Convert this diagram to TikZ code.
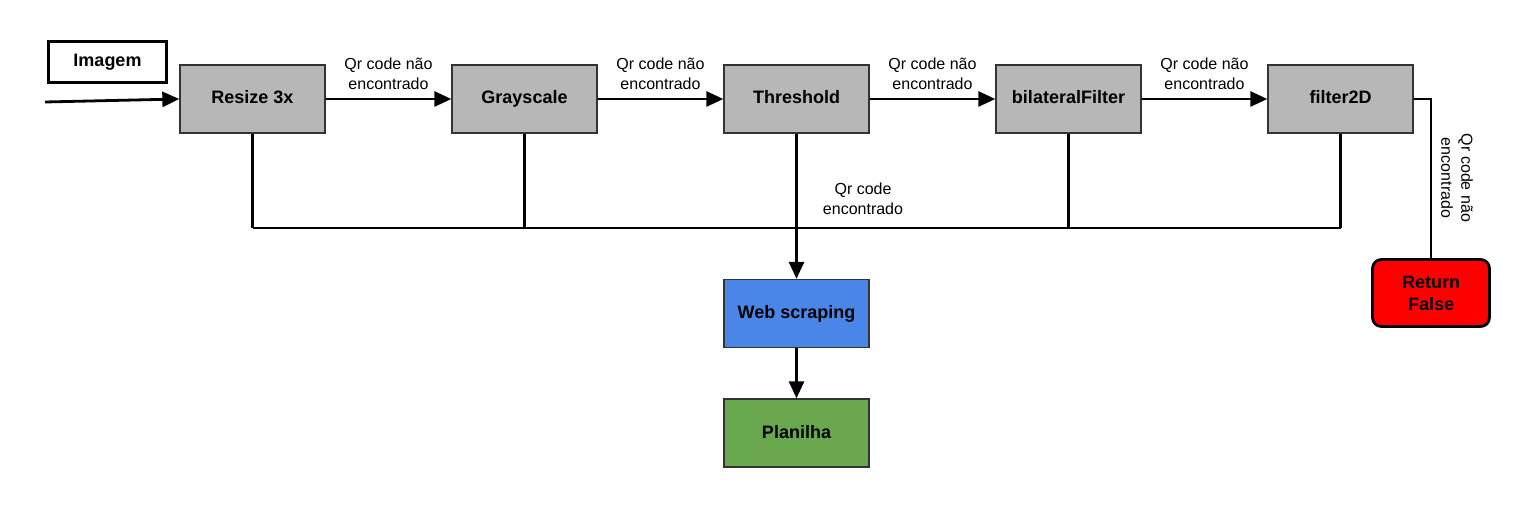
\documentclass[tikz,border=0pt]{standalone}
\usepackage{fontspec}
\setmainfont{Liberation Sans}
\usetikzlibrary{arrows.meta}

\definecolor{boxgray}{HTML}{B7B7B7}
\definecolor{webblue}{HTML}{4A86E8}
\definecolor{sheetgreen}{HTML}{6AA84F}

\begin{document}
\begin{tikzpicture}[x=1pt,y=-1pt,
	stage/.style={rectangle, draw=black!80, line width=1.3pt, fill=boxgray, minimum width=145pt, minimum height=68pt, text height=13pt, text depth=3pt, font=\fontsize{18}{21}\selectfont\bfseries},
	conn/.style={line width=2.8pt},
	arr/.style={conn, -{Triangle[length=17pt,width=15pt]}},
	lbl/.style={align=center, font=\fontsize{16}{20}\selectfont}]

	\useasboundingbox (0,0) rectangle (1515,516);

	\node (img) [rectangle, draw, line width=2.8pt, fill=white, minimum width=118pt, minimum height=41pt, text height=13pt, text depth=3pt, font=\fontsize{18}{21}\selectfont\bfseries] at (107.5, 62) {Imagem};
	\node (res) [stage] at (252.5, 99) {Resize 3x};
	\node (gry) [stage] at (524.5, 99) {Grayscale};
	\node (thr) [stage] at (796.5, 99) {Threshold};
	\node (bil) [stage] at (1068.5, 99) {bilateralFilter};
	\node (f2d) [stage] at (1340.5, 99) {filter2D};
	\node (web) [stage, fill=webblue] at (796.5, 313.5) {Web scraping};
	\node (sht) [stage, fill=sheetgreen] at (796.5, 433) {Planilha};
	\node (ret) [rectangle, rounded corners=9pt, draw, line width=2.8pt, fill=red, minimum width=117pt, minimum height=67pt, align=center, font=\fontsize{18}{22}\selectfont\bfseries] at (1431, 293) {Return\\False};

	\coordinate (in) at (45, 102);
	\coordinate (b1) at (252.5, 228);
	\coordinate (b2) at (524.5, 228);
	\coordinate (b4) at (1068.5, 228);
	\coordinate (b5) at (1340.5, 228);

	\path[arr]
	(in) edge (res.west)
	(res.east) edge node[lbl, above=5pt] {Qr code não\\encontrado} (gry.west)
	(gry.east) edge node[lbl, above=5pt] {Qr code não\\encontrado} (thr.west)
	(thr.east) edge node[lbl, above=5pt] {Qr code não\\encontrado} (bil.west)
	(bil.east) edge node[lbl, above=5pt] {Qr code não\\encontrado} (f2d.west)
	(thr.south) edge (web.north)
	(web.south) edge (sht.north);

	\path[conn]
	(res.south) edge (b1)
	(gry.south) edge (b2)
	(bil.south) edge (b4)
	(f2d.south) edge (b5)
	(b1) edge (b5);

	\draw[conn] (f2d.east) -| (ret.north);

	\node (lfound) [lbl] at (863, 199) {Qr code\\encontrado};
	\node (lnot) [lbl, rotate=-90] at (1457, 178) {Qr code não\\encontrado};

\end{tikzpicture}
\end{document}
